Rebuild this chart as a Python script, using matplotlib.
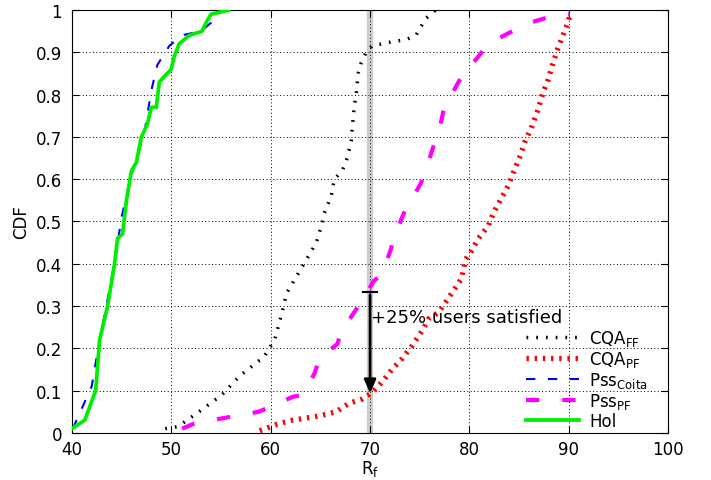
import matplotlib
matplotlib.use('Agg')
import matplotlib.pyplot as plt

# CDF curves (x = R_f, y = CDF)
hol_x = [40.0, 41.3, 42.4, 42.8, 43.6, 44.3, 44.6, 45.1, 45.5, 46.0, 46.5, 47.0, 47.6,
         48.0, 48.5, 48.8, 50.0, 50.3, 50.8, 51.8, 53.1, 53.5, 54.0, 55.8]
hol_y = [0.01, 0.03, 0.10, 0.22, 0.30, 0.40, 0.46, 0.47, 0.55, 0.62, 0.64, 0.70, 0.73,
         0.77, 0.77, 0.83, 0.86, 0.89, 0.92, 0.94, 0.95, 0.97, 0.99, 1.0]

coita_x = [40.1, 42.0, 42.8, 44.3, 45.0, 46.0, 47.3, 48.0, 48.6, 49.8, 51.0, 53.0, 54.0, 55.0]
coita_y = [0.01, 0.11, 0.22, 0.40, 0.51, 0.61, 0.71, 0.81, 0.87, 0.915, 0.94, 0.95, 0.97, 1.0]

cqa_ff_x = [49.4, 50.7, 52.8, 55.1, 56.9, 58.8, 59.2, 60.4, 61.1, 61.6, 62.6, 63.6, 64.6,
            65.1, 65.4, 66.1, 66.4, 67.2, 67.7, 68.1, 68.2, 68.4, 68.6, 68.8, 69.1, 69.6,
            70.2, 72.2, 73.6, 74.6, 75.6, 76.6]
cqa_ff_y = [0.01, 0.015, 0.05, 0.09, 0.135, 0.17, 0.175, 0.22, 0.28, 0.33, 0.37, 0.41, 0.45,
            0.49, 0.52, 0.56, 0.60, 0.62, 0.65, 0.69, 0.72, 0.77, 0.80, 0.85, 0.875, 0.90,
            0.915, 0.925, 0.93, 0.94, 0.98, 1.0]

pss_pf_x = [51.1, 52.1, 54.8, 58.8, 59.5, 62.2, 63.2, 64.4, 64.9, 66.7, 67.1, 68.4, 69.1,
            70.4, 71.2, 72.1, 72.4, 73.4, 73.9, 75.1, 75.6, 76.4, 76.9, 77.6, 78.2, 79.6,
            80.2, 81.9, 82.7, 85.1, 86.1, 88.9, 90.1]
pss_pf_y = [0.01, 0.02, 0.033, 0.05, 0.057, 0.085, 0.09, 0.14, 0.175, 0.21, 0.24, 0.285, 0.31,
            0.36, 0.375, 0.435, 0.46, 0.52, 0.54, 0.59, 0.62, 0.68, 0.71, 0.785, 0.80, 0.86,
            0.87, 0.92, 0.93, 0.96, 0.97, 0.99, 0.99]

cqa_pf_x = [58.9, 60.6, 62.2, 64.9, 66.6, 67.9, 69.2, 70.2, 71.2, 72.2, 73.2, 74.2, 75.2,
            75.9, 76.9, 78.2, 79.2, 79.6, 80.2, 80.9, 81.9, 82.4, 83.1, 83.9, 84.4, 85.1,
            85.6, 86.2, 86.9, 87.4, 87.9, 88.4, 88.9, 89.4, 89.9, 90.2]
cqa_pf_y = [0.005, 0.02, 0.03, 0.04, 0.05, 0.07, 0.08, 0.095, 0.12, 0.15, 0.175, 0.205, 0.24,
            0.27, 0.285, 0.33, 0.365, 0.41, 0.43, 0.46, 0.49, 0.52, 0.55, 0.585, 0.615, 0.655,
            0.69, 0.72, 0.765, 0.805, 0.835, 0.875, 0.91, 0.94, 0.97, 0.995]

threshold = 70
arrow_top = 0.333
arrow_bottom = 0.087
annotation = "+25% users satisfied"

x_ticks = [40, 50, 60, 70, 80, 90, 100]
y_ticks = [0, 0.1, 0.2, 0.3, 0.4, 0.5, 0.6, 0.7, 0.8, 0.9, 1]
y_labels = ["0", "0.1", "0.2", "0.3", "0.4", "0.5", "0.6", "0.7", "0.8", "0.9", "1"]

fig = plt.figure(figsize=(7.11, 4.81), dpi=100)
ax = fig.add_axes([0.101, 0.098, 0.839, 0.879])

# gray threshold line
ax.axvline(threshold, color="#cccccc", lw=4.5, zorder=1)

ax.plot(cqa_ff_x, cqa_ff_y, color="black", lw=2.5, linestyle=(0, (0.5, 2.3)),
        label=r"CQA$_\mathrm{FF}$", zorder=3)
ax.plot(cqa_pf_x, cqa_pf_y, color="red", lw=3.8, linestyle=(0, (0.45, 1.1)),
        label=r"CQA$_\mathrm{PF}$", zorder=3)
ax.plot(coita_x, coita_y, color="blue", lw=1.5, linestyle=(0, (4.5, 6)),
        label=r"Pss$_\mathrm{Coita}$", zorder=3)
ax.plot(pss_pf_x, pss_pf_y, color="magenta", lw=3, linestyle=(0, (3.2, 5.5)),
        label=r"Pss$_\mathrm{PF}$", zorder=3)
ax.plot(hol_x, hol_y, color="#00ee00", lw=2.7, linestyle="-",
        label="Hol", zorder=4)

# arrow with cap
ax.annotate("", xy=(threshold, arrow_bottom), xytext=(threshold, arrow_top),
            arrowprops=dict(arrowstyle="-|>,head_length=0.8,head_width=0.35",
                            color="black", lw=2), zorder=5)
ax.plot([threshold - 0.7, threshold + 0.7], [arrow_top, arrow_top], color="black", lw=1.5, zorder=5)
ax.text(threshold + 0.1, 0.275, annotation, fontsize=13, ha="left", va="center", zorder=6)

ax.set_xlim(40, 100)
ax.set_ylim(0, 1)
ax.set_xticks(x_ticks)
ax.set_yticks(y_ticks)
ax.set_yticklabels(y_labels)
ax.tick_params(direction="in", top=True, right=True, labelsize=12, length=5)
ax.tick_params(axis="x", pad=5)
ax.tick_params(axis="y", pad=7)
ax.grid(True, color="black", linestyle=(0, (1, 2.5)), lw=0.7)
ax.set_xlabel(r"R$_\mathrm{f}$", fontsize=12, labelpad=0)
ax.set_ylabel("CDF", fontsize=12, labelpad=4)

leg = ax.legend(loc="lower right", bbox_to_anchor=(0.985, -0.02), frameon=False, fontsize=12,
                handlelength=3.2, labelspacing=0.05, handletextpad=0.6, borderaxespad=0.3)

fig.savefig("out.png", dpi=100)
